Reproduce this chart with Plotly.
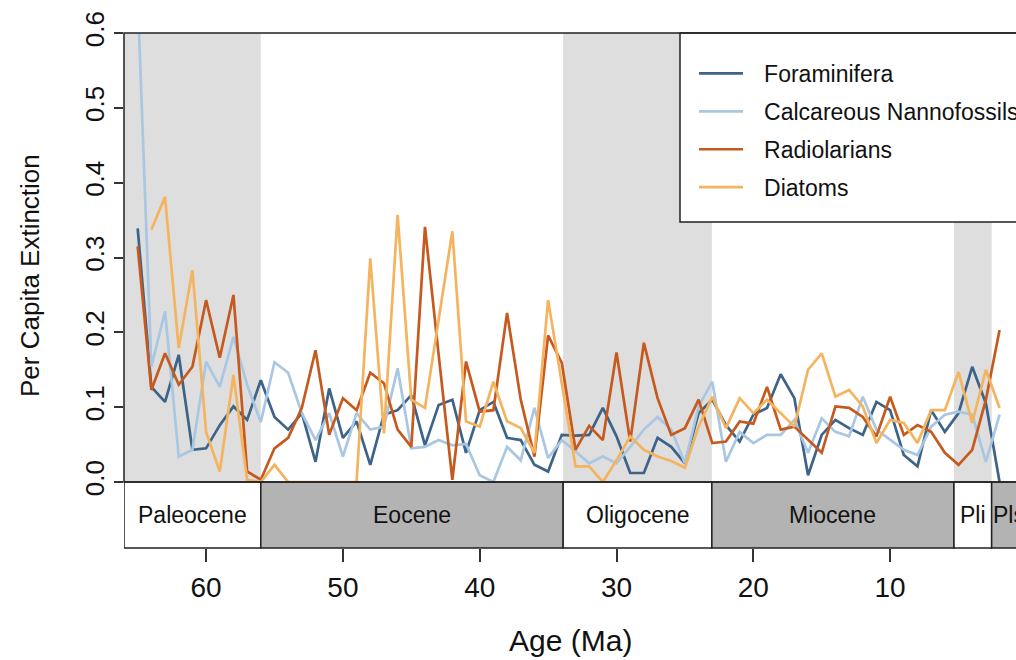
import plotly.graph_objects as go

# ---------------- data ----------------
ages = list(range(65, 0, -1))  # 65 ... 1 Ma

foraminifera = [0.339, 0.127, 0.107, 0.170, 0.043, 0.045, 0.076, 0.101, 0.083, 0.136,
                0.087, 0.070, 0.092, 0.027, 0.125, 0.059, 0.081, 0.023, 0.090, 0.096,
                0.116, 0.049, 0.103, 0.110, 0.039, 0.096, 0.107, 0.059, 0.056, 0.023,
                0.014, 0.063, 0.062, 0.063, 0.099, 0.061, 0.012, 0.012, 0.059, 0.047,
                0.025, 0.092, 0.110, 0.076, 0.054, 0.090, 0.099, 0.144, 0.112, 0.009,
                0.063, 0.083, 0.072, 0.063, 0.107, 0.096, 0.036, 0.021, 0.096, 0.067,
                0.092, 0.154, 0.105, 0.000, None]

nannofossils = [0.650, 0.154, 0.228, 0.034, 0.043, 0.161, 0.127, 0.194, 0.130, 0.080,
                0.160, 0.146, 0.092, 0.056, 0.092, 0.034, 0.092, 0.070, 0.074, 0.152,
                0.045, 0.047, 0.056, 0.049, 0.051, 0.009, 0.000, 0.047, 0.029, 0.099,
                0.032, 0.056, 0.041, 0.025, 0.034, 0.025, 0.047, 0.070, 0.087, 0.070,
                0.025, 0.101, 0.134, 0.027, 0.067, 0.052, 0.063, 0.063, 0.083, 0.039,
                0.085, 0.067, 0.061, 0.114, 0.070, 0.056, 0.043, 0.036, 0.074, 0.090,
                0.094, 0.090, 0.027, 0.090, None]

radiolarians = [0.315, 0.123, 0.172, 0.130, 0.154, 0.243, 0.166, 0.250, 0.014, 0.003,
                0.045, 0.059, 0.099, 0.176, 0.063, 0.112, 0.096, 0.146, 0.132, 0.070,
                0.047, 0.341, 0.170, 0.003, 0.161, 0.094, 0.096, 0.226, 0.110, 0.034,
                0.196, 0.159, 0.043, 0.075, 0.056, 0.173, 0.054, 0.186, 0.112, 0.063,
                0.072, 0.110, 0.052, 0.054, 0.081, 0.078, 0.127, 0.070, 0.074, 0.056,
                0.039, 0.101, 0.099, 0.087, 0.061, 0.114, 0.063, 0.076, 0.067, 0.039,
                0.023, 0.043, 0.110, 0.203, None]

diatoms = [None, 0.337, 0.381, 0.179, 0.283, 0.067, 0.014, 0.143, 0.003, 0.000,
           0.023, 0.000, 0.000, 0.000, 0.000, 0.000, 0.000, 0.299, 0.065, 0.357,
           0.110, 0.099, 0.217, 0.335, 0.081, 0.074, 0.134, 0.081, 0.072, 0.039,
           0.243, 0.130, 0.021, 0.021, 0.000, 0.029, 0.061, 0.043, 0.034, 0.028,
           0.019, 0.074, 0.114, 0.072, 0.112, 0.092, 0.110, 0.092, 0.074, 0.150,
           0.172, 0.114, 0.123, 0.101, 0.052, 0.083, 0.079, 0.052, 0.096, 0.096,
           0.147, 0.079, 0.150, 0.099, None]

series_names = ["Foraminifera", "Calcareous Nannofossils", "Radiolarians", "Diatoms"]
series_colors = ["#3d6388", "#a9c7e2", "#c65a1e", "#f4b45f"]

epoch_names = ["Paleocene", "Eocene", "Oligocene", "Miocene", "Pli", "Pls"]
epoch_bounds = [66.0, 56.0, 33.9, 23.03, 5.333, 2.58, 0.0117]
epoch_fill = ["white", "#b3b3b3", "white", "#b3b3b3", "white", "#b3b3b3"]
shaded_epochs = [0, 2, 4]

x_ticks = [60, 50, 40, 30, 20, 10]
y_ticks = [0.0, 0.1, 0.2, 0.3, 0.4, 0.5, 0.6]
y_ticktext = ["0.0", "0.1", "0.2", "0.3", "0.4", "0.5", "0.6"]

# ---------------- layout geometry ----------------
W, H = 1016, 660
ML, MT, MB = 124, 33, 112
plot_w = W - ML
plot_h = H - MT - MB          # 515
band_px = 66
band_top = band_px / plot_h   # paper fraction of timescale band
FONT = "Liberation Sans, Arial, Helvetica, sans-serif"
LEGEND_PAD = "\u2002\u2009"


def px_to_paper_y(py):
    return (H - MB - py) / plot_h


def px_to_paper_x(px):
    return (px - ML) / plot_w


fig = go.Figure()

for name, vals, col in zip(series_names,
                           [foraminifera, nannofossils, radiolarians, diatoms],
                           series_colors):
    fig.add_trace(go.Scatter(x=ages, y=vals, mode="lines", name=LEGEND_PAD + name,
                             legendgroup=name,
                             line=dict(color=col, width=2.7),
                             connectgaps=False))

shapes = []
# grey shading for alternate epochs in main panel
for i in shaded_epochs:
    shapes.append(dict(type="rect", xref="x", yref="y",
                       x0=epoch_bounds[i], x1=epoch_bounds[i + 1], y0=0, y1=0.6,
                       fillcolor="#dedede", line=dict(width=0), layer="below"))
# timescale band
for i, nm in enumerate(epoch_names):
    shapes.append(dict(type="rect", xref="x", yref="paper",
                       x0=epoch_bounds[i], x1=epoch_bounds[i + 1], y0=0, y1=band_top,
                       fillcolor=epoch_fill[i], line=dict(color="#222", width=1.5),
                       layer="above"))
# legend box
shapes.append(dict(type="rect", xref="paper", yref="paper",
                   x0=px_to_paper_x(680), x1=1.05, y0=px_to_paper_y(222), y1=1.0,
                   fillcolor="white", line=dict(color="#222", width=1.5), layer="above"))
# main frame
shapes.append(dict(type="rect", xref="paper", yref="paper",
                   x0=0, x1=1.05, y0=band_top, y1=1.0,
                   fillcolor="rgba(0,0,0,0)", line=dict(color="#222", width=1.5),
                   layer="above"))

annotations = []
for i, nm in enumerate(epoch_names):
    annotations.append(dict(x=(epoch_bounds[i] + epoch_bounds[i + 1]) / 2,
                            y=band_top / 2, xref="x", yref="paper",
                            xanchor="center", yanchor="middle",
                            text=nm, showarrow=False,
                            font=dict(family=FONT, size=23, color="#111")))
annotations.append(dict(x=px_to_paper_x(30), y=px_to_paper_y(276),
                        xref="paper", yref="paper", text="Per Capita Extinction",
                        xanchor="center", yanchor="middle",
                        textangle=-90, showarrow=False,
                        font=dict(family=FONT, size=26, color="#111")))
annotations.append(dict(x=0.5, y=px_to_paper_y(640), xref="paper", yref="paper",
                        xanchor="center", yanchor="middle",
                        text="Age (Ma)", showarrow=False,
                        font=dict(family=FONT, size=30, color="#111")))

fig.update_layout(
    width=W, height=H,
    margin=dict(l=ML, r=0, t=MT, b=MB, pad=0, autoexpand=False),
    plot_bgcolor="white", paper_bgcolor="white",
    font=dict(family=FONT, color="#111"),
    shapes=shapes, annotations=annotations,
    showlegend=True,
    legend=dict(x=px_to_paper_x(694), y=px_to_paper_y(52),
                xanchor="left", yanchor="top",
                bgcolor="rgba(0,0,0,0)", borderwidth=0,
                font=dict(family=FONT, size=23, color="#111"),
                traceorder="grouped", tracegroupgap=5, itemwidth=44),
    xaxis=dict(range=[66, 0.8], anchor="free", position=0,
               tickvals=x_ticks, ticks="outside", ticklen=13, tickwidth=1.5,
               tickcolor="#333", showgrid=False, zeroline=False, showline=False,
               tickfont=dict(family=FONT, size=28, color="#111"),
               ticklabelstandoff=1),
    yaxis=dict(domain=[band_top, 1], range=[0, 0.6],
               tickvals=y_ticks, ticktext=y_ticktext, ticks="outside",
               ticklen=9, tickwidth=1.5, tickcolor="#333", tickangle=-90,
               showgrid=False, zeroline=False, showline=False,
               tickfont=dict(family=FONT, size=26, color="#111"),
               ticklabelstandoff=0),
)

fig.write_html("out.html")
